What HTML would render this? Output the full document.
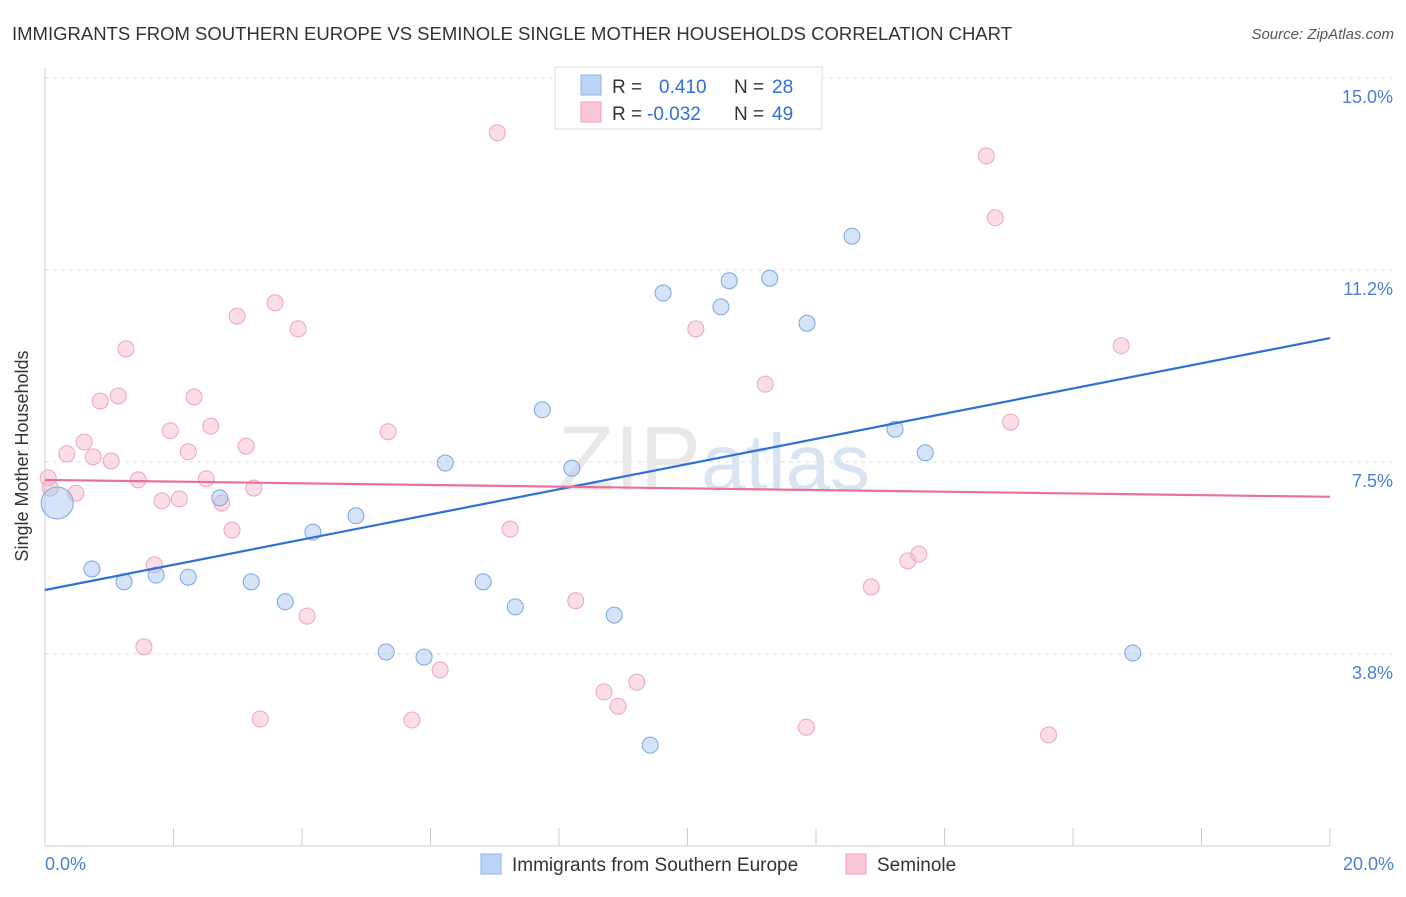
<!DOCTYPE html>
<html><head><meta charset="utf-8"><style>
body{margin:0;background:#fff;font-family:"Liberation Sans",sans-serif;}
svg text{font-family:"Liberation Sans",sans-serif;}
</style></head><body>
<svg width="1406" height="892" xmlns="http://www.w3.org/2000/svg">
<text x="12" y="40" font-size="18" fill="#333" textLength="1000" lengthAdjust="spacingAndGlyphs">IMMIGRANTS FROM SOUTHERN EUROPE VS SEMINOLE SINGLE MOTHER HOUSEHOLDS CORRELATION CHART</text>
<text x="1394" y="39" font-size="15" fill="#555" font-style="italic" text-anchor="end">Source: ZipAtlas.com</text>
<g id="grid"></g>
<text x="558" y="490" font-size="92" fill="#e8e8e8" font-family="Liberation Serif">ZIP<tspan fill="#d8e4f2" font-family="Liberation Sans" font-size="80">atlas</tspan></text>
<line x1="45" y1="68" x2="45" y2="846" stroke="#ccc"/>
<line x1="45" y1="846" x2="1330" y2="846" stroke="#ccc"/>
<g id="ticks"></g>
<text x="28" y="456" font-size="18" fill="#333" text-anchor="middle" transform="rotate(-90 28 456)">Single Mother Households</text>
<text x="45" y="870" font-size="18" fill="#4a7fd4">0.0%</text>
<text x="1394" y="870" font-size="18" fill="#4a7fd4" text-anchor="end">20.0%</text>
<g id="pts"></g>
<g id="lines"></g>
<g>
<rect x="555" y="67" width="267" height="62" fill="#fff" stroke="#ddd"/>
<rect x="581" y="75" width="20" height="20" fill="#bcd4f5" stroke="#8fb3e8"/>
<rect x="581" y="102" width="20" height="20" fill="#f9c6d5" stroke="#efa1b9"/>
<text x="612" y="93" font-size="19" fill="#333">R = <tspan x="659" fill="#2f6fd6">0.410</tspan><tspan x="734" fill="#333">N = </tspan><tspan x="772" fill="#2f6fd6">28</tspan></text>
<text x="612" y="120" font-size="19" fill="#333">R = <tspan x="647" fill="#2f6fd6">-0.032</tspan><tspan x="734" fill="#333">N = </tspan><tspan x="772" fill="#2f6fd6">49</tspan></text>
</g>
<g>
<rect x="481" y="854" width="20" height="20" fill="#bcd4f5" stroke="#8fb3e8"/>
<text x="512" y="871" font-size="19" fill="#333">Immigrants from Southern Europe</text>
<rect x="846" y="854" width="20" height="20" fill="#f9c6d5" stroke="#efa1b9"/>
<text x="877" y="871" font-size="19" fill="#333">Seminole</text>
</g>
</svg>
<script>
const yTicks=[3.75,7.5,11.25,15];
const yTickLabels=["3.8%","7.5%","11.2%","15.0%"];
const blueX=[0.19,0.73,1.23,1.73,2.23,2.72,3.21,3.74,4.17,4.84,5.31,5.90,6.23,6.82,7.32,7.74,8.20,8.86,9.42,9.62,10.52,10.65,11.28,11.86,12.56,13.23,13.70,16.93];
const blueY=[6.70,5.41,5.16,5.29,5.25,6.80,5.16,4.77,6.13,6.45,3.79,3.69,7.48,5.16,4.67,8.52,7.38,4.51,1.97,10.80,10.53,11.04,11.09,10.21,11.91,8.14,7.68,3.77];
const pinkX=[0.05,0.34,0.48,0.61,0.75,0.86,1.03,1.14,1.26,1.45,1.54,1.70,1.82,1.95,2.09,2.23,2.32,2.51,2.58,2.75,2.91,2.99,3.13,3.25,3.35,3.58,3.94,4.08,5.34,5.71,6.15,7.04,7.24,8.26,8.70,8.92,9.21,10.13,11.21,11.85,12.86,13.43,13.60,14.65,14.79,15.03,15.62,16.75,0.08];
const pinkY=[7.19,7.66,6.89,7.89,7.60,8.69,7.52,8.79,9.71,7.15,3.89,5.49,6.74,8.11,6.78,7.70,8.77,7.17,8.20,6.70,6.17,10.35,7.81,6.99,2.48,10.61,10.10,4.49,8.09,2.46,3.44,13.93,6.19,4.79,3.01,2.73,3.20,10.10,9.02,2.32,5.06,5.57,5.70,13.48,12.27,8.28,2.17,9.77,6.99];
const blueTrend=[5.0,9.92];
const pinkTrend=[7.15,6.82];
const NS="http://www.w3.org/2000/svg";
const X=v=>45+v/20*1285, Y=v=>846-v*51.2;
function mk(t,a,p){const e=document.createElementNS(NS,t);for(const k in a)e.setAttribute(k,a[k]);p.appendChild(e);return e;}
const grid=document.getElementById('grid');
yTicks.forEach((t,i)=>{
 const l=mk('line',{x1:45,x2:1394,y1:Y(t),y2:Y(t),stroke:'#ddd','stroke-dasharray':'4,4'},grid);
 
 
 const tx=mk('text',{x:1393,y:Y(t)+25,'font-size':18,fill:'#4a7fd4','text-anchor':'end'},grid);
 tx.textContent=yTickLabels[i];
 
 
});
const ticks=document.getElementById('ticks');
for(let i=0;i<=10;i++){const l=mk('line',{x1:X(i*2),x2:X(i*2),y1:828,y2:846,stroke:'#ccc'},ticks);
 
 }
const pts=document.getElementById('pts');
pinkX.forEach((x,i)=>{const c=mk('circle',{cx:X(x),cy:Y(pinkY[i]),r:8,fill:'rgba(246,180,200,0.45)',stroke:'#eea5bc','stroke-width':1},pts);
 
 });
blueX.forEach((x,i)=>{const c=mk('circle',{cx:X(x),cy:Y(blueY[i]),r:i==0?16:8,fill:'rgba(170,200,240,0.5)',stroke:'#7aa6e0','stroke-width':1},pts);
 
 });
const lines=document.getElementById('lines');
const b=mk('line',{x1:X(0),y1:Y(blueTrend[0]),x2:X(20),y2:Y(blueTrend[1]),stroke:'#2f6fd6','stroke-width':2.2},lines);


const p=mk('line',{x1:X(0),y1:Y(pinkTrend[0]),x2:X(20),y2:Y(pinkTrend[1]),stroke:'#e8709a','stroke-width':2.2},lines);


</script>
</body></html>
